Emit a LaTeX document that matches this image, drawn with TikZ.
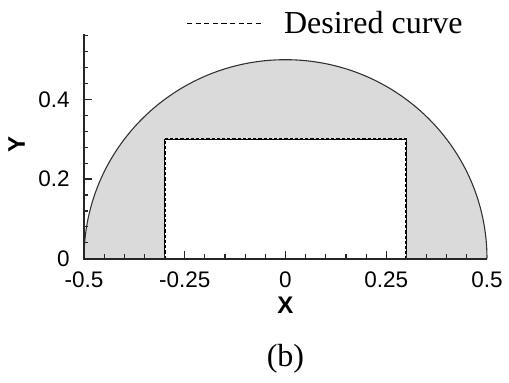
\documentclass[tikz,border=0pt]{standalone}
\usepackage{fontspec}
\setmainfont{Liberation Serif}
\setsansfont{Liberation Sans}
\definecolor{gris}{RGB}{218,218,218}
\tikzset{
  axe/.style={line width=1.7pt, black!85},
  graduation/.style={line width=1.2pt, black!85},
  chiffre/.style={font=\sffamily\fontsize{22.5}{24}\selectfont, inner sep=0pt},
  titreaxe/.style={font=\sffamily\bfseries\fontsize{24}{26}\selectfont, inner sep=0pt},
  trace/.style={dash pattern=on 3.2pt off 2pt, line width=2pt},
  legende/.style={dash pattern=on 5.2pt off 3.4pt, line width=1.5pt},
  texte/.style={font=\fontsize{32}{36}\selectfont, inner sep=0pt},
}
\begin{document}
\begin{tikzpicture}[x=403pt,y=398pt]
\useasboundingbox (-0.7084,-0.3098) rectangle (0.5546,0.6500);
\fill[gris] (-0.5,0) arc[start angle=180,end angle=0,radius=0.5] -- (0.3,0) -- (0.3,0.3) -- (-0.3,0.3) -- (-0.3,0) -- cycle; % domaine
\draw[line width=1.1pt, black!80] (-0.5,0) arc[start angle=180,end angle=0,radius=0.5]; % bord circulaire
\draw[line width=1pt] (-0.3,0) -- (-0.3,0.3) -- (0.3,0.3) -- (0.3,0); % obstacle
\draw[trace] (-0.3,0) -- (-0.3,0.3) -- (0.3,0.3) -- (0.3,0); % courbe voulue
% axes et graduations
\draw[axe] (-0.5,0.565) -- (-0.5,0) -- (0.5,0);
\foreach \y in {0.04,0.08,...,0.57} \draw[graduation] (-0.5,\y) -- ++(4.5pt,0);
\foreach \y in {0.2,0.4} \draw[graduation] (-0.5,\y) -- ++(8pt,0);
\foreach \x in {-0.45,-0.4,...,0.46} \draw[graduation] (\x,0) -- ++(0,4.5pt);
\foreach \x in {-0.25,0,0.25} \draw[graduation] (\x,0) -- ++(0,7.5pt);
% valeurs
\node[chiffre, anchor=east] (y0) at (-0.535,0) {0};
\node[chiffre, anchor=east] (y2) at (-0.535,0.2) {0.2};
\node[chiffre, anchor=east] (y4) at (-0.535,0.4) {0.4};
\node[chiffre] (xa) at (-0.5,-0.0535) {-0.5};
\node[chiffre] (xb) at (-0.25,-0.0535) {-0.25};
\node[chiffre] (xc) at (0,-0.0535) {0};
\node[chiffre] (xd) at (0.25,-0.0535) {0.25};
\node[chiffre] (xe) at (0.5,-0.0535) {0.5};
\node[titreaxe] (labx) at (0,-0.1163) {X};
\node[titreaxe, rotate=90] (laby) at (-0.667,0.288) {Y};
% legende
\coordinate (lga) at (-0.2444,0.5915);
\coordinate (lgb) at (-0.0533,0.5915);
\draw[legende] (lga) -- (lgb);
\node[texte, anchor=base west] (lgt) at (-0.004,0.5663) {Desired curve};
\node[texte] (sousfig) at (0,-0.252) {(b)};
\end{tikzpicture}
\end{document}
